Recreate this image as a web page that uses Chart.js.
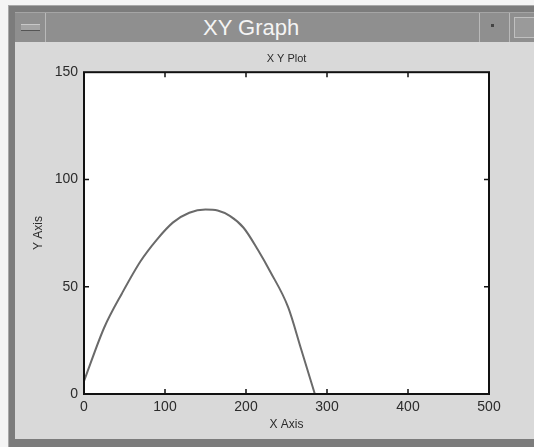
<!DOCTYPE html>
<html>
<head>
<meta charset="utf-8">
<script src="https://cdn.jsdelivr.net/npm/chart.js@4/dist/chart.umd.min.js"></script>
<style>
  html, body { margin: 0; padding: 0; background: #f4f4f4; }
  #win { position: absolute; left: 0; top: 0; width: 534px; height: 447px; overflow: hidden; font-family: "Liberation Sans", Arial, sans-serif; }
  #frame { position: absolute; left: 8px; top: 5px; width: 530px; height: 446px; background: #7c7c7c; border-top: 1px solid #a8a8a8; border-left: 1px solid #a8a8a8; }
  #bar { position: absolute; left: 15px; top: 12px; width: 519px; height: 29px; background: #8f8f8f; border-top: 1px solid #a5a5a5; }
  #bar .sep { position: absolute; top: 0; width: 1px; height: 29px; background: #b9b9b9; }
  #bar .title { position: absolute; left: 188px; top: 0; height: 29px; line-height: 29px; color: #f4f4f4; font-size: 22px; }
  #btnL { position: absolute; left: 6px; top: 11px; width: 19px; height: 5px; background: #a4a4a4; border-top: 1px solid #c8c8c8; border-bottom: 1px solid #555; }
  #dot { position: absolute; left: 491px; top: 24px; width: 3px; height: 3px; background: #444; }
  #box { position: absolute; left: 514px; top: 17px; width: 20px; height: 19px; border: 1px solid #c0c0c0; background: #9a9a9a; }
  #content { position: absolute; left: 15px; top: 42px; width: 519px; height: 397px; background: #d9d9d9; }
</style>
</head>
<body>
<div id="win">
  <div id="frame"></div>
  <div id="bar">
    <div id="btnL"></div>
    <div class="sep" style="left:30px"></div>
    <div class="title">XY Graph</div>
    <div class="sep" style="left:464px"></div>
    <div class="sep" style="left:494px"></div>
  </div>
  <div id="dot"></div>
  <div id="box"></div>
  <div id="content"><canvas id="xyChart" width="519" height="397"></canvas></div>
</div>
<script>
// curve samples
const xValues = [0, 25, 47, 70, 90, 110, 130, 150, 165, 180, 197, 215, 230, 252, 268, 285];
const yValues = [6, 31, 47, 62, 72, 80, 84.5, 86, 85.5, 83, 77.5, 67, 57, 40.5, 21, 0];
const xTicks  = [0, 100, 200, 300, 400, 500];
const yTicks  = [0, 50, 100, 150];

const TEXT = '#2b2b2b';

// white plot box, black frame and short inward ticks on all four sides
const innerTicks = {
  id: 'innerTicks',
  beforeDraw(chart) {
    const { ctx, chartArea: a } = chart;
    ctx.save();
    ctx.fillStyle = '#ffffff';
    ctx.fillRect(a.left, a.top, a.right - a.left, a.bottom - a.top);
    ctx.restore();
  },
  afterDatasetsDraw(chart) {
    const { ctx, chartArea: a, scales } = chart;
    ctx.save();
    ctx.strokeStyle = '#111';
    ctx.lineWidth = 1.5;
    ctx.beginPath();
    xTicks.slice(1, -1).forEach(v => {
      const px = scales.x.getPixelForValue(v);
      ctx.moveTo(px, a.bottom); ctx.lineTo(px, a.bottom - 5);
      ctx.moveTo(px, a.top);    ctx.lineTo(px, a.top + 5);
    });
    yTicks.slice(1, -1).forEach(v => {
      const py = scales.y.getPixelForValue(v);
      ctx.moveTo(a.left, py);  ctx.lineTo(a.left + 5, py);
      ctx.moveTo(a.right, py); ctx.lineTo(a.right - 5, py);
    });
    ctx.stroke();
    ctx.lineWidth = 2;
    ctx.strokeRect(a.left, a.top, a.right - a.left, a.bottom - a.top);
    ctx.restore();
  },
};

new Chart(document.getElementById('xyChart'), {
  type: 'scatter',
  data: {
    datasets: [{
      data: xValues.map((x, i) => ({ x, y: yValues[i] })),
      showLine: true,
      borderColor: '#6a6a6a',
      borderWidth: 2,
      pointRadius: 0,
      cubicInterpolationMode: 'monotone',
    }],
  },
  options: {
    responsive: false,
    animation: false,
    layout: { padding: { left: 0, right: 45, top: 0, bottom: 0 } },
    plugins: {
      legend: { display: false },
      tooltip: { enabled: false },
      title: {
        display: true,
        text: 'X Y Plot',
        fullSize: false,
        color: TEXT,
        font: { family: 'Liberation Sans', size: 11, weight: 'normal' },
        padding: { top: 10, bottom: 7 },
      },
    },
    scales: {
      x: {
        type: 'linear',
        min: 0, max: 500,
        afterFit: s => { s.height = 45; },
        afterBuildTicks: s => { s.ticks = xTicks.map(value => ({ value })); },
        grid: { display: false, drawTicks: false },
        border: { display: false },
        ticks: { color: TEXT, padding: 5, maxRotation: 0, font: { family: 'Liberation Sans', size: 14 } },
        title: { display: true, text: 'X Axis', color: TEXT, padding: { top: 2, bottom: 7 }, font: { family: 'Liberation Sans', size: 12 } },
      },
      y: {
        type: 'linear',
        min: 0, max: 150,
        afterFit: s => { s.width = 69; },
        afterBuildTicks: s => { s.ticks = yTicks.map(value => ({ value })); },
        grid: { display: false, drawTicks: false },
        border: { display: false },
        ticks: { color: TEXT, padding: 6, font: { family: 'Liberation Sans', size: 14 } },
        title: { display: true, text: 'Y Axis', color: TEXT, padding: { top: 16, bottom: 0 }, font: { family: 'Liberation Sans', size: 12 } },
      },
    },
  },
  plugins: [innerTicks],
});
</script>
</body>
</html>
